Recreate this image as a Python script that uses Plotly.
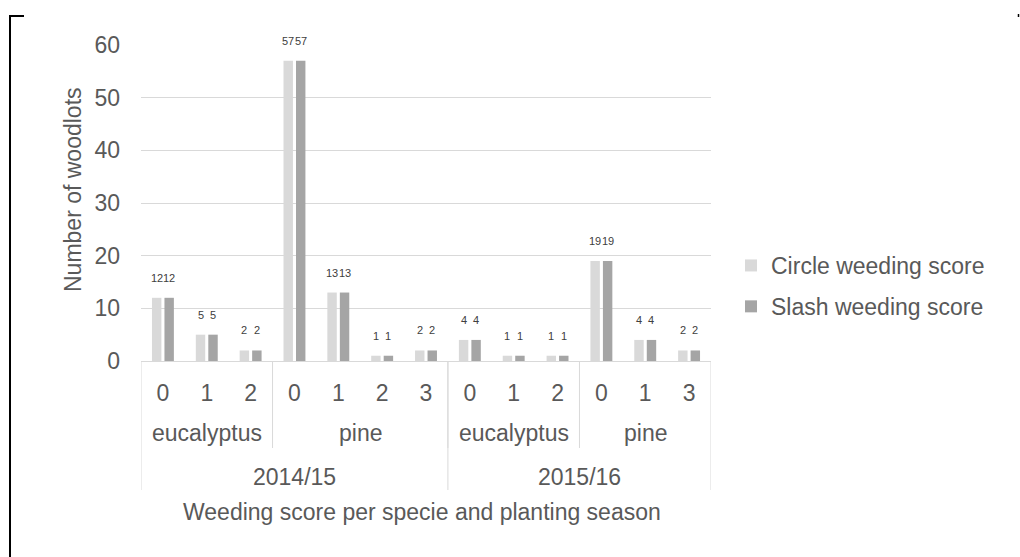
import plotly.graph_objects as go

# Weeding scores per planting season, species and score level
seasons = ["2014/15"] * 7 + ["2015/16"] * 6
species = ["eucalyptus"] * 3 + ["pine"] * 4 + ["eucalyptus"] * 3 + ["pine"] * 3
scores = ["0", "1", "2", "0", "1", "2", "3", "0", "1", "2", "0", "1", "3"]
circle_weeding = [12, 5, 2, 57, 13, 1, 2, 4, 1, 1, 19, 4, 2]
slash_weeding = [12, 5, 2, 57, 13, 1, 2, 4, 1, 1, 19, 4, 2]

series_names = ["Circle weeding score", "Slash weeding score"]
series_colors = ["#d9d9d9", "#a5a5a5"]

W, H = 1020, 557
L, R, T, B = 141, 309, 45, 196
PW, PH = W - L - R, H - T - B

FONT = "Liberation Sans, Arial, sans-serif"
TXT = "#595959"
GRID = "#d9d9d9"
BIG = 23

cats = [f"{s}|{sp}|{sc}" for s, sp, sc in zip(seasons, species, scores)]
n = len(cats)


def px_x(p):
    return (p - L) / PW


def px_y(p):
    return (H - B - p) / PH


bar_w = 0.215
offsets = [-0.25, 0.035]

fig = go.Figure()
for name, vals, col, off in zip(series_names, [circle_weeding, slash_weeding],
                                series_colors, offsets):
    fig.add_trace(go.Bar(
        x=cats, y=vals, name=name, marker=dict(color=col, line_width=0),
        width=bar_w, offset=off, legendgroup=name,
    ))

annotations = []
# value labels above each bar
for vals, off in zip([circle_weeding, slash_weeding], offsets):
    for i, v in enumerate(vals):
        annotations.append(dict(
            x=i + off + bar_w / 2, y=v, xref="x", yref="y", text=str(v),
            showarrow=False, yanchor="middle", yshift=20,
            font=dict(size=11, color="#404040", family=FONT),
        ))


def spans(labels):
    out = []
    start = 0
    for i in range(1, len(labels) + 1):
        if i == len(labels) or labels[i] != labels[start]:
            out.append((start, i - 1, labels[start]))
            start = i
    return out


line = dict(color=GRID, width=1)
shapes = []

# species row and season row of the category axis
species_keys = [f"{s}|{sp}" for s, sp in zip(seasons, species)]
for a, b, key in spans(species_keys):
    annotations.append(dict(
        x=(a + b) / 2, y=px_y(433), xref="x", yref="paper",
        text=key.split("|")[1], showarrow=False, yanchor="middle",
        font=dict(size=BIG, color=TXT, family=FONT),
    ))
    if b < n - 1:
        shapes.append(dict(type="line", xref="x", yref="paper",
                           x0=b + 0.5, x1=b + 0.5, y0=px_y(361), y1=px_y(448), line=line))
for a, b, key in spans(seasons):
    annotations.append(dict(
        x=(a + b) / 2, y=px_y(477), xref="x", yref="paper", text=key,
        showarrow=False, yanchor="middle",
        font=dict(size=BIG, color=TXT, family=FONT),
    ))
    shapes.append(dict(type="line", xref="x", yref="paper",
                       x0=b + 0.5, x1=b + 0.5, y0=px_y(361), y1=px_y(490), line=line))
shapes.append(dict(type="line", xref="x", yref="paper",
                   x0=-0.5, x1=-0.5, y0=px_y(361), y1=px_y(490), line=line))

# axis titles
annotations.append(dict(
    x=px_x(422), y=px_y(512), xref="paper", yref="paper",
    text="Weeding score per specie and planting season", showarrow=False,
    xanchor="center", yanchor="middle",
    font=dict(size=BIG, color=TXT, family=FONT),
))
annotations.append(dict(
    x=px_x(73), y=px_y(190), xref="paper", yref="paper",
    text="Number of woodlots", showarrow=False, textangle=-90,
    xanchor="center", yanchor="middle",
    font=dict(size=BIG, color=TXT, family=FONT),
))

# outer frame fragments
frame = dict(color="black", width=2)
shapes += [
    dict(type="line", xref="paper", yref="paper", x0=px_x(10), x1=px_x(10),
         y0=px_y(15), y1=px_y(560), line=frame),
    dict(type="line", xref="paper", yref="paper", x0=px_x(9), x1=px_x(24),
         y0=px_y(16), y1=px_y(16), line=frame),
    dict(type="line", xref="paper", yref="paper", x0=px_x(1018.5), x1=px_x(1018.5),
         y0=px_y(14), y1=px_y(17), line=dict(color="black", width=1.5)),
]

fig.update_layout(
    width=W, height=H,
    margin=dict(l=L, r=R, t=T, b=B, pad=0),
    paper_bgcolor="white", plot_bgcolor="white",
    font=dict(family=FONT, color=TXT, size=BIG),
    showlegend=True,
    legend=dict(x=px_x(731), y=px_y(286), xanchor="left", yanchor="middle",
                font=dict(size=BIG, color=TXT, family=FONT),
                tracegroupgap=8, bgcolor="rgba(0,0,0,0)"),
    annotations=annotations,
    shapes=shapes,
    bargap=0.5,
)
fig.update_xaxes(
    type="category", categoryorder="array", categoryarray=cats,
    tickvals=cats, ticktext=scores, range=[-0.5, n - 0.5],
    showgrid=False, zeroline=False, showline=True, linecolor=GRID, linewidth=1,
    ticks="", ticklabelstandoff=11,
    tickfont=dict(size=BIG, color=TXT, family=FONT),
)
fig.update_yaxes(
    range=[0, 60], dtick=10, showgrid=True, gridcolor=GRID, gridwidth=1,
    zeroline=False, showline=False, ticks="", ticklabelstandoff=20,
    tickfont=dict(size=BIG, color=TXT, family=FONT),
)

fig.write_html("out.html")
